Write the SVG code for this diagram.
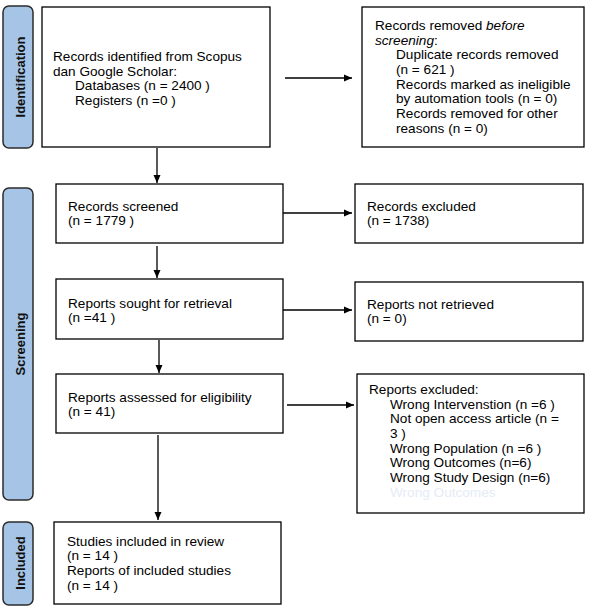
<svg xmlns="http://www.w3.org/2000/svg" width="590" height="608" viewBox="0 0 590 608">
<defs>
<marker id="ah" markerWidth="8" markerHeight="8" refX="8" refY="4" orient="auto" markerUnits="userSpaceOnUse">
<path d="M0,0.5 L8,4 L0,7.5 Z" fill="#000"/>
</marker>
</defs>
<style>
.box{fill:#fff;stroke:#000;stroke-width:1.3}
.side{fill:#a6c4e6;stroke:#2b2b2b;stroke-width:1.5}
.t{font-family:"Liberation Sans",Arial,sans-serif;font-size:13.6px;fill:#000}
.s{font-family:"Liberation Sans",Arial,sans-serif;font-size:13px;font-weight:bold;fill:#111}
.c{stroke:#000;stroke-width:1.3;fill:none;marker-end:url(#ah)}
</style>
<rect width="590" height="608" fill="#fff"/>
<g id="side-identification">
<rect class="side" x="3" y="6" width="30" height="142" rx="6"/>
<text class="s" transform="translate(24.5,77) rotate(-90)" text-anchor="middle">Identification</text>
</g>
<g id="side-screening">
<rect class="side" x="3" y="188" width="30" height="312" rx="6"/>
<text class="s" transform="translate(24.5,344) rotate(-90)" text-anchor="middle">Screening</text>
</g>
<g id="side-included">
<rect class="side" x="3" y="522" width="30" height="83" rx="6"/>
<text class="s" transform="translate(24.5,563) rotate(-90)" text-anchor="middle">Included</text>
</g>
<g id="identified">
<rect class="box" x="42" y="7" width="228" height="140"/>
<text class="t"><tspan x="53" y="61">Records identified from Scopus</tspan><tspan x="53" y="75.5">dan Google Scholar:</tspan><tspan x="75" y="90">Databases (n = 2400 )</tspan><tspan x="75" y="105">Registers (n =0 )</tspan></text>
</g>
<g id="removed">
<rect class="box" x="362" y="7" width="222" height="140"/>
<text class="t"><tspan x="375" y="30">Records removed <tspan font-style="italic">before</tspan></tspan><tspan x="375" y="44.5" font-style="italic">screening</tspan><tspan>:</tspan><tspan x="396" y="59">Duplicate records removed</tspan><tspan x="396" y="74">(n = 621  )</tspan><tspan x="396" y="88.5">Records marked as ineligible</tspan><tspan x="396" y="103">by automation tools (n = 0)</tspan><tspan x="396" y="118">Records removed for other</tspan><tspan x="396" y="132.5">reasons (n = 0)</tspan></text>
</g>
<g id="screened">
<rect class="box" x="56" y="184" width="227" height="59"/>
<text class="t"><tspan x="68" y="210.5">Records screened</tspan><tspan x="68" y="225">(n = 1779 )</tspan></text>
</g>
<g id="excluded">
<rect class="box" x="355" y="184" width="228" height="59"/>
<text class="t"><tspan x="367" y="210.5">Records excluded</tspan><tspan x="367" y="225">(n = 1738)</tspan></text>
</g>
<g id="sought">
<rect class="box" x="56" y="279" width="227" height="60"/>
<text class="t"><tspan x="68" y="307.5">Reports sought for retrieval</tspan><tspan x="68" y="322">(n =41 )</tspan></text>
</g>
<g id="notretrieved">
<rect class="box" x="355" y="282" width="228" height="59"/>
<text class="t"><tspan x="367" y="308.5">Reports not retrieved</tspan><tspan x="367" y="323">(n = 0)</tspan></text>
</g>
<g id="assessed">
<rect class="box" x="56" y="374" width="227" height="59"/>
<text class="t"><tspan x="68" y="401.5">Reports assessed for eligibility</tspan><tspan x="68" y="416">(n = 41)</tspan></text>
</g>
<g id="reportsexcluded">
<rect class="box" x="357" y="374" width="227" height="139"/>
<text class="t"><tspan x="369" y="393.5">Reports excluded:</tspan><tspan x="390" y="408.5">Wrong Intervenstion (n =6 )</tspan><tspan x="390" y="423">Not open access article (n =</tspan><tspan x="390" y="438">3 )</tspan><tspan x="390" y="452.5">Wrong Population (n =6 )</tspan><tspan x="390" y="467">Wrong Outcomes (n=6)</tspan><tspan x="390" y="482">Wrong Study Design (n=6)</tspan></text>
<text class="t" x="390" y="497" style="fill:#e4ecf6">Wrong Outcomes</text>
</g>
<g id="included">
<rect class="box" x="54" y="522" width="227" height="82"/>
<text class="t"><tspan x="67" y="545.5">Studies included in review</tspan><tspan x="67" y="560">(n = 14 )</tspan><tspan x="67" y="575">Reports of included studies</tspan><tspan x="67" y="590">(n = 14 )</tspan></text>
</g>
<g id="connectors">
<line class="c" x1="285" y1="78" x2="352" y2="78"/>
<line class="c" x1="157" y1="148" x2="157" y2="183"/>
<line class="c" x1="283" y1="213" x2="352" y2="213"/>
<line class="c" x1="157" y1="246" x2="157" y2="278"/>
<line class="c" x1="283" y1="310" x2="352" y2="310"/>
<line class="c" x1="159" y1="340" x2="159" y2="373"/>
<line class="c" x1="287" y1="405" x2="354" y2="405"/>
<line class="c" x1="158" y1="435" x2="158" y2="520"/>
</g>
</svg>
